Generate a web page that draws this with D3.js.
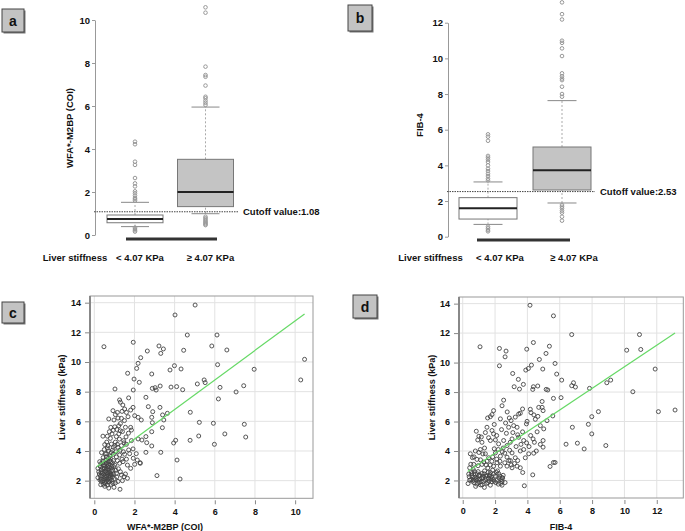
<!DOCTYPE html>
<html>
<head>
<meta charset="utf-8">
<script src="https://cdn.jsdelivr.net/npm/d3@7"></script>
<style>
  body { margin: 0; background: #fff; }
  svg text { font-family: "Liberation Sans", Arial, sans-serif; font-weight: bold; fill: #111; }
</style>
</head>
<body>
<svg id="chart" width="685" height="531"></svg>
<script>
// ---- data ----
const groups = ['< 4.07 KPa', '≥ 4.07 KPa'];

// panel a: WFA+-M2BP boxplots [low whisker, q1, median, q3, high whisker]
const wfaBox = [[0.39, 0.57, 0.74, 0.93, 1.52], [0.99, 1.32, 2.0, 3.52, 5.95]];
const wfaOutLow = [[0.34, 0.28, 0.22, 0.16], [0.85, 0.78, 0.72, 0.66, 0.6, 0.55, 0.5, 0.46]];
const wfaOutHigh = [[4.34, 4.22, 3.41, 3.26, 2.65, 2.4, 2.26, 2.03, 1.94, 1.83, 1.72, 1.67, 1.6],
                    [10.59, 10.34, 7.83, 7.44, 7.36, 6.95, 6.43, 6.36, 6.25, 6.15, 6.05]];
const wfaCutoff = 1.08;
const wfaTicks = [0, 2, 4, 6, 8, 10];

// panel b: FIB-4 boxplots
const fibBox = [[0.69, 0.99, 1.59, 2.19, 3.07], [1.89, 2.62, 3.72, 5.03, 7.63]];
const fibOutLow = [[0.56, 0.47, 0.37, 0.3], [1.78, 1.68, 1.59, 1.46, 1.35, 1.12, 0.9]];
const fibOutHigh = [[5.74, 5.61, 5.38, 4.53, 4.43, 4.32, 4.19, 4.0, 3.81, 3.68, 3.53, 3.4, 3.25, 3.16],
                    [13.14, 12.48, 12.18, 10.99, 10.87, 10.56, 10.13, 9.16, 9.0, 8.87, 8.78, 8.41, 8.0, 7.85]];
const fibCutoff = 2.53;
const fibTicks = [0, 2, 4, 6, 8, 10, 12];

// panel c: WFA+-M2BP vs liver stiffness
const wfaPoints = [
  [5.02,13.84],[4.02,13.17],[0.48,11.03],[1.94,11.33],[3.22,11.08],[3.44,10.88],[3.31,10.58],[2.64,10.74],
  [2.31,10.29],[2.18,9.91],[2.11,9.57],[1.66,9.24],[2.86,9.19],[1.98,8.85],[2.24,8.63],[1.94,8.11],[1.03,8.18],
  [2.89,8.22],[3.03,8.27],[3.08,8.11],[3.28,8.38],[3.99,9.75],[3.77,9.46],[4.32,9.53],[3.82,8.31],[4.10,8.34],
  [4.40,8.13],[4.45,10.79],[4.63,11.82],[5.85,11.08],[6.11,11.82],[6.60,10.81],[6.14,9.82],[5.47,8.79],[5.52,8.61],
  [5.13,8.52],[6.26,8.29],[6.18,7.51],[7.06,7.98],[7.44,8.40],[7.96,9.51],[10.28,8.79],[10.47,10.18],[4.78,6.61],
  [3.64,6.54],[3.46,6.09],[3.39,5.57],[3.27,6.94],[2.69,6.99],[2.57,7.62],[2.91,6.65],[2.86,6.27],[2.89,5.91],
  [2.86,5.30],[3.40,6.43],[4.77,4.72],[4.05,4.72],[3.95,4.54],[5.23,5.93],[5.93,5.87],[5.20,5.01],[7.47,5.80],
  [7.54,4.94],[6.50,5.15],[5.98,4.45],[4.12,3.39],[3.12,2.34],[4.27,2.11],[3.31,3.91],[2.57,3.91],[2.61,4.56],
  [2.86,4.34],[2.57,4.97],[2.37,4.74],[2.28,3.21],[2.14,3.39],[1.94,3.51],
  [1.26,7.44],[1.30,7.29],[1.71,7.58],[0.93,6.72],[1.15,6.60],[1.38,6.67],[1.51,6.83],[1.81,6.76],[1.93,6.94],
  [0.72,6.16],[0.98,6.09],[1.18,6.22],[1.35,6.20],[1.68,6.31],[2.01,6.38],[2.18,6.27],[2.34,6.09],[0.82,5.59],
  [1.02,5.63],[1.22,5.70],[1.30,5.36],[1.40,5.31],[1.81,5.59],[1.85,5.41],[0.43,5.0],[0.65,5.0],[0.88,5.15],
  [1.10,4.97],[1.22,5.15],[1.46,4.70],[1.85,4.70],[2.18,4.81],[0.52,4.43],[0.68,4.36],[0.85,4.47],[1.02,4.36],
  [1.18,4.25],[1.35,4.36],[1.71,4.07],[1.93,4.14],[0.36,3.89],[0.61,3.82],[0.78,3.66],[0.94,3.78],[1.10,3.60],
  [1.26,3.73],[1.51,3.78],[1.76,3.82],[2.09,3.82],[0.27,3.28],[0.43,3.33],[0.60,3.17],[0.82,3.28],[1.02,3.05],
  [1.26,3.17],[1.43,3.28],[1.65,3.05],[1.81,2.83],[2.01,3.10],[2.29,3.17],[0.18,2.83],[0.35,2.72],[0.52,2.61],
  [0.68,2.79],[0.85,2.65],[1.10,2.49],[1.35,2.38],[1.48,2.27],[1.65,2.16],[0.18,2.20],[0.35,2.11],[0.48,2.27],
  [0.60,1.95],[0.77,2.05],[0.93,1.83],[1.18,1.95],[0.32,1.73],[0.52,1.62],[0.72,1.50],[0.98,1.55],[1.28,1.42],
  [0.25,2.45],[0.30,2.95],[0.40,2.50],[0.45,3.05],[0.50,2.85],[0.55,2.35],[0.58,3.40],[0.62,2.55],[0.65,2.10],
  [0.70,3.05],[0.72,2.35],[0.75,2.90],[0.78,2.20],[0.80,3.50],[0.82,2.45],[0.88,3.00],[0.90,2.25],[0.92,2.70],
  [0.95,3.35],[1.00,2.15],[0.42,2.00],[0.55,1.80],[0.65,1.70],[0.38,2.35],[0.48,2.80],[0.58,2.65],[0.68,3.25],
  [0.75,2.55],[0.85,2.05],[0.60,3.60],[0.70,4.00],[0.50,4.10],[0.90,4.05],[1.05,4.60],[0.80,4.85],[0.95,5.40],
  [0.62,4.60],[1.15,3.35],[1.20,2.80],[1.30,2.60],[1.40,2.00],[1.55,2.45],[1.60,3.45],[1.05,1.85],[0.28,2.05],
  [0.22,2.60],[0.33,3.15],[0.44,3.55],[0.52,2.10],[0.66,2.95],[0.74,1.90],[0.86,2.40],[0.96,2.95],[1.12,2.25],
  [1.45,3.95],[1.60,4.45],[1.25,4.80],[1.55,5.60],[1.70,5.20],[1.50,6.05],
  [0.30,2.30],[0.35,2.55],[0.40,2.85],[0.42,3.20],[0.47,2.45],[0.50,1.90],[0.53,3.00],[0.57,2.20],[0.60,2.75],
  [0.63,3.10],[0.67,2.45],[0.70,1.95],[0.73,2.70],[0.77,3.35],[0.80,2.35],[0.83,1.75],[0.87,2.85],[0.90,3.20],
  [0.35,1.95],[0.45,1.75],[0.62,2.30],[0.72,3.55],[0.55,3.80],[0.85,3.90],[0.65,4.20],[0.95,4.25],[1.08,3.95],
  [1.15,4.45],[1.28,4.05],[1.38,3.45],[1.48,4.55],[1.58,4.95],[1.12,5.45],[1.30,5.85],[0.75,5.30],[1.05,6.45],
  [1.60,6.60],[1.42,7.10],[0.95,2.45],[1.08,2.70]
];
const wfaFit = [[0.12, 2.94], [10.47, 13.24]];
const wfaXTicks = [0, 2, 4, 6, 8, 10];

// panel d: FIB-4 vs liver stiffness
const fibPoints = [
  [4.16,13.89],[5.61,13.17],[1.07,11.07],[2.27,10.96],[2.68,10.78],[2.62,10.39],[2.27,9.78],[4.37,11.36],
  [3.96,10.91],[5.36,11.11],[5.15,10.62],[4.74,10.21],[5.71,9.94],[5.81,9.22],[4.95,9.56],[4.25,9.83],[4.06,9.60],
  [3.90,9.49],[3.09,9.26],[3.44,8.86],[3.75,8.52],[3.18,8.36],[3.51,8.20],[4.37,8.36],[4.33,8.18],[4.64,8.41],
  [5.16,8.18],[5.26,8.14],[6.12,8.81],[6.74,8.43],[6.85,8.63],[6.97,8.34],[7.84,8.25],[6.74,11.90],[10.14,10.84],
  [10.93,11.90],[11.01,10.89],[11.90,9.56],[10.52,8.02],[8.91,8.63],[9.15,8.81],[8.39,6.67],[7.98,6.33],[7.98,5.16],
  [7.77,5.81],[6.78,5.61],[7.09,4.53],[7.51,4.14],[8.85,4.37],[6.39,4.46],[12.10,6.67],[13.13,6.78],[6.08,7.62],
  [5.61,7.57],[5.57,6.38],[3.81,1.64],[5.40,2.95],[5.61,3.22],[5.71,3.22],[4.33,2.38],[3.71,2.54],[2.62,1.86],
  [2.47,2.16],
  [0.84,5.34],[1.50,5.61],[1.54,6.24],[1.81,6.47],[1.91,6.74],[1.71,6.33],[2.33,6.18],[2.53,7.45],[2.43,7.07],
  [2.88,6.24],[2.99,6.06],[2.84,5.61],[3.46,6.51],[3.56,6.56],[3.15,5.72],[3.36,5.61],[3.98,6.01],[3.94,5.84],
  [4.18,6.83],[4.22,6.60],[4.49,6.15],[4.80,5.72],[4.91,7.36],[4.91,6.96],[5.21,6.06],[4.70,6.96],[4.97,6.74],
  [0.93,4.75],[1.19,4.59],[1.81,5.39],[1.91,5.16],[1.71,4.71],[2.02,4.75],[2.22,4.48],[2.53,4.71],[2.74,4.37],
  [2.94,4.59],[3.05,4.82],[3.46,4.93],[3.77,4.71],[4.35,4.82],[4.43,4.59],[4.97,4.71],[5.01,5.50],[4.97,4.26],
  [4.08,3.81],[4.39,3.85],[0.47,3.81],[0.78,4.0],[1.09,4.10],[1.40,3.81],[1.60,3.54],[2.02,3.87],[2.33,3.65],
  [2.74,3.58],[3.05,3.87],[3.25,3.54],[3.56,4.0],[3.77,4.10],[3.87,3.54],[2.74,2.97],[2.33,2.97],[2.12,3.20],
  [1.91,2.97],[1.50,3.31],[1.19,3.09],[0.88,3.43],[0.68,3.09],[0.43,2.86],[3.05,2.86],[3.36,2.97],[3.56,2.86],
  [0.37,2.43],[0.57,2.32],[0.78,2.43],[0.99,2.32],[1.19,2.47],[1.50,2.32],[1.71,2.54],[1.91,2.43],[2.22,2.47],
  [2.43,2.20],[0.43,2.02],[0.68,2.02],[0.88,2.14],[1.13,1.92],[1.40,2.02],[1.60,2.14],[1.81,1.92],[2.12,2.02],
  [2.43,1.92],[0.33,1.79],[0.88,1.75],[1.34,1.53],[1.71,1.68],[2.43,1.68],
  [0.55,2.60],[0.65,2.75],[0.75,2.20],[0.95,2.60],[1.05,2.10],[1.25,2.30],[1.35,2.65],[1.45,2.15],[1.55,2.85],
  [1.65,2.30],[1.75,2.10],[1.85,2.70],[2.00,2.30],[2.05,1.85],[2.15,2.65],[2.25,2.15],[2.35,1.80],[2.50,2.35],
  [0.60,1.95],[0.80,1.60],[1.00,1.85],[1.20,1.70],[1.55,1.85],[1.95,1.95],[2.20,1.75],[0.95,3.00],[1.30,3.25],
  [1.70,3.05],[2.10,3.45],[2.60,3.20],[2.85,3.35],[3.20,3.15],[3.40,3.35],[2.90,4.05],[3.30,4.30],[3.60,4.45],
  [2.50,4.20],[2.20,4.10],[1.35,4.20],[1.60,4.90],[2.10,5.05],[2.40,5.45],[2.70,5.20],[3.10,5.25],[3.40,5.10],
  [3.70,5.30],[4.20,5.05],[4.60,5.30],[4.10,4.30],[4.55,4.00],[4.80,4.45],[3.95,4.55],[1.95,5.80],[2.65,5.90],
  [3.25,6.30],[2.75,6.65],[3.70,6.85],[4.40,6.45],[4.65,6.35],[0.60,3.55],[1.00,3.90],[1.85,3.60],[2.45,3.95],
  [3.00,3.05],[1.00,5.00],
  [0.40,2.25],[0.50,2.05],[0.55,2.45],[0.62,2.25],[0.70,1.85],[0.72,2.60],[0.82,2.05],[0.90,2.45],[0.98,2.05],
  [1.05,2.35],[1.10,1.70],[1.18,2.15],[1.28,1.95],[1.32,2.45],[1.42,2.30],[1.48,1.80],[1.58,2.55],[1.62,1.95],
  [1.68,2.40],[1.78,2.25],[1.88,2.05],[2.08,2.55],[2.28,2.30],[2.38,2.05],[0.50,3.10],[0.70,3.60],[1.10,3.40],
  [1.45,3.05],[1.25,3.80],[1.80,3.30],[1.95,4.15],[2.30,3.30],[2.60,3.85],[2.95,3.35],[1.15,4.95],[1.40,5.25]
];
const fibFit = [[0.31, 2.61], [13.13, 12.01]];
const fibXTicks = [0, 2, 4, 6, 8, 10, 12];
const lsTicks = [2, 4, 6, 8, 10, 12, 14];

const svg = d3.select('#chart');

// little grey letter boxes in panel corners
function panelLabel(x, y, w, h, letter) {
  let g = svg.append('g');
  g.append('rect').attr('x', x + 1.5).attr('y', y + 1.5).attr('width', w).attr('height', h).attr('fill', '#777');
  g.append('rect').attr('x', x).attr('y', y).attr('width', w).attr('height', h)
    .attr('fill', '#c3c3c3').attr('stroke', '#444').attr('stroke-width', 1);
  g.append('text').attr('x', x + w / 2).attr('y', y + h / 2 + 5).attr('text-anchor', 'middle')
    .style('font-size', '14px').text(letter);
}

function boxPanel(opt) {
  let y = d3.scaleLinear().domain(opt.yDomain).range(opt.yRange);
  let x = d3.scalePoint().domain(groups).range(opt.xRange);
  let g = svg.append('g');

  // axis
  let axis = d3.axisLeft(y).tickValues(opt.ticks).tickSize(3).tickSizeOuter(0);
  let ax = g.append('g').attr('transform', `translate(${opt.axisX},0)`).call(axis);
  ax.select('.domain').attr('stroke', '#999');
  ax.selectAll('.tick line').attr('stroke', '#999');
  ax.selectAll('.tick text').style('font-size', '9.5px').style('font-family', '"Liberation Sans", Arial')
    .style('font-weight', 'bold').attr('fill', '#111').attr('x', -5);

  g.append('text').attr('transform', `translate(${opt.titleX},${opt.titleY}) rotate(-90)`)
    .attr('text-anchor', 'middle').style('font-size', '9.5px').text(opt.title);

  let cap = opt.boxW / 2;
  groups.forEach((grp, i) => {
    let s = opt.stats[i];
    let cx = x(grp);
    // whiskers
    g.append('line').attr('x1', cx).attr('x2', cx).attr('y1', y(s[0])).attr('y2', y(s[1]))
      .attr('stroke', '#aaa').attr('stroke-dasharray', '2,2');
    g.append('line').attr('x1', cx).attr('x2', cx).attr('y1', y(s[3])).attr('y2', y(s[4]))
      .attr('stroke', '#aaa').attr('stroke-dasharray', '2,2');
    [s[0], s[4]].forEach(v => {
      g.append('line').attr('x1', cx - cap / 2).attr('x2', cx + cap / 2).attr('y1', y(v)).attr('y2', y(v))
        .attr('stroke', '#888').attr('stroke-width', 1);
    });
    g.append('rect').attr('x', cx - opt.boxW / 2).attr('width', opt.boxW)
      .attr('y', y(s[3])).attr('height', y(s[1]) - y(s[3]))
      .attr('fill', i === 0 ? '#fff' : '#c4c4c4').attr('stroke', '#777');
    g.append('line').attr('x1', cx - opt.boxW / 2).attr('x2', cx + opt.boxW / 2)
      .attr('y1', y(s[2])).attr('y2', y(s[2])).attr('stroke', '#222').attr('stroke-width', 2);
    let outs = opt.outLow[i].concat(opt.outHigh[i]);
    g.selectAll(null).data(outs).enter().append('circle')
      .attr('cx', cx).attr('cy', d => y(d)).attr('r', 1.8)
      .attr('fill', 'none').attr('stroke', '#999').attr('stroke-width', 1);
    g.append('text').attr('x', cx + opt.catShift).attr('y', 261).attr('text-anchor', 'middle')
      .style('font-size', '9.5px').text(grp);
  });

  // cutoff
  g.append('line').attr('x1', opt.axisX - 1).attr('x2', opt.cutEnd).attr('y1', y(opt.cutoff)).attr('y2', y(opt.cutoff))
    .attr('stroke', '#444').attr('stroke-dasharray', '1.5,1');
  g.append('text').attr('x', opt.cutEnd + 5).attr('y', y(opt.cutoff) + 3.5)
    .style('font-size', '9.5px').text('Cutoff value:' + opt.cutoff.toFixed(2));

  // heavy bar under the boxes
  g.append('line').attr('x1', opt.bar[0]).attr('x2', opt.bar[1]).attr('y1', opt.barY).attr('y2', opt.barY)
    .attr('stroke', '#333').attr('stroke-width', 3);

  g.append('text').attr('x', opt.lsX).attr('y', 261).attr('text-anchor', 'middle')
    .style('font-size', '9.5px').text('Liver stiffness');
}

function scatterPanel(opt) {
  let x = d3.scaleLinear().domain(opt.xDomain).range(opt.xRange);
  let y = d3.scaleLinear().domain([0.81, 14.45]).range(opt.yRange);
  let g = svg.append('g');
  let [x0, x1] = opt.xRange;
  let [y0, y1] = opt.yRange;

  // grid
  g.selectAll(null).data(opt.xTicks).enter().append('line')
    .attr('x1', d => x(d)).attr('x2', d => x(d)).attr('y1', y1).attr('y2', y0)
    .attr('stroke', '#e2e2e2');
  g.selectAll(null).data(lsTicks).enter().append('line')
    .attr('x1', x0).attr('x2', x1).attr('y1', d => y(d)).attr('y2', d => y(d))
    .attr('stroke', '#e2e2e2');

  let xa = g.append('g').attr('transform', `translate(0,${y0 + 2})`)
    .call(d3.axisBottom(x).tickValues(opt.xTicks).tickSize(4).tickSizeOuter(0));
  let ya = g.append('g').attr('transform', `translate(${x0 - 1},0)`)
    .call(d3.axisLeft(y).tickValues(lsTicks).tickSize(4).tickSizeOuter(0));
  [xa, ya].forEach(a => {
    a.select('.domain').remove();
    a.selectAll('.tick line').attr('stroke', '#888');
    a.selectAll('.tick text').style('font-size', '9px').style('font-family', '"Liberation Sans", Arial')
      .style('font-weight', 'bold').attr('fill', '#111');
  });
  xa.selectAll('.tick text').attr('y', 8);
  ya.selectAll('.tick text').attr('x', -8);

  g.append('rect').attr('x', x0).attr('y', y1).attr('width', x1 - x0).attr('height', y0 - y1)
    .attr('fill', 'none').attr('stroke', '#999');
  g.append('line').attr('x1', x0).attr('x2', x0).attr('y1', y1).attr('y2', y0)
    .attr('stroke', '#888').attr('stroke-width', 2);

  g.selectAll(null).data(opt.points).enter().append('circle')
    .attr('cx', d => x(d[0])).attr('cy', d => y(d[1])).attr('r', 2)
    .attr('fill', 'none').attr('stroke', '#444').attr('stroke-width', 0.9);

  g.append('path').datum(opt.fit)
    .attr('d', d3.line().x(d => x(d[0])).y(d => y(d[1])))
    .attr('fill', 'none').attr('stroke', '#66d966').attr('stroke-width', 1.2);

  g.append('text').attr('x', opt.xTitleX).attr('y', 530).attr('text-anchor', 'middle')
    .style('font-size', '9px').text(opt.xTitle);
  g.append('text').attr('transform', `translate(${opt.yTitleX},${(y0 + y1) / 2}) rotate(-90)`)
    .attr('text-anchor', 'middle').style('font-size', '9px').text('Liver stiffness (kPa)');
}

boxPanel({
  stats: wfaBox, outLow: wfaOutLow, outHigh: wfaOutHigh, cutoff: wfaCutoff, ticks: wfaTicks,
  yDomain: [0, 10], yRange: [235, 20], xRange: [135, 205.5], boxW: 56, axisX: 95,
  title: 'WFA*-M2BP (COI)', titleX: 73, titleY: 128, cutEnd: 238,
  bar: [126, 217], barY: 239, lsX: 75, catShift: 5
});
boxPanel({
  stats: fibBox, outLow: fibOutLow, outHigh: fibOutHigh, cutoff: fibCutoff, ticks: fibTicks,
  yDomain: [0, 12], yRange: [236.7, 22.7], xRange: [488, 562], boxW: 58, axisX: 448,
  title: 'FIB-4', titleX: 423, titleY: 125, cutEnd: 595,
  bar: [477, 570], barY: 240, lsX: 430.5, catShift: 12
});
scatterPanel({
  points: wfaPoints, fit: wfaFit, xTicks: wfaXTicks, xDomain: [-0.214, 10.89],
  xRange: [90, 313], yRange: [498.3, 296], xTitle: 'WFA*-M2BP (COI)', xTitleX: 165, yTitleX: 65
});
scatterPanel({
  points: fibPoints, fit: fibFit, xTicks: fibXTicks, xDomain: [-0.23, 13.64],
  xRange: [459, 683.3], yRange: [498, 297], xTitle: 'FIB-4', xTitleX: 561, yTitleX: 435
});

panelLabel(2, 9, 22, 23, 'a');
panelLabel(348, 5, 24, 26, 'b');
panelLabel(2, 302, 22, 21, 'c');
panelLabel(353, 295, 24, 23, 'd');
</script>
</body>
</html>
